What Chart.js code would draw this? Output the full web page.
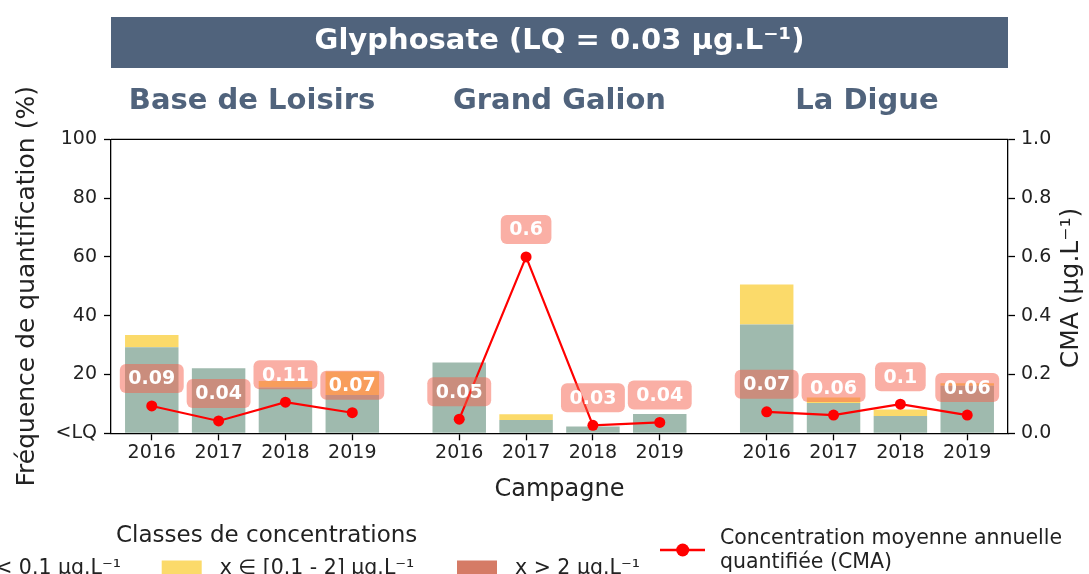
<!DOCTYPE html>
<html>
<head>
<meta charset="utf-8">
<script src="https://cdn.jsdelivr.net/npm/chart.js@4/dist/chart.umd.min.js"></script>
<style>
	html, body { margin: 0; padding: 0; background: #fff; }
	#contenedor { width: 1089px; height: 574px; position: relative; }
</style>
</head>
<body>
<div id="contenedor"><canvas id="grafico" width="1089" height="574"></canvas></div>
<script>
// datos
const sites = ['Base de Loisirs', 'Grand Galion', 'La Digue'];
const years = ['2016', '2017', '2018', '2019'];
// frecuencia de cuantificacion (%) por clase, un array por sitio
const freqLow = [[29.3, 22.1, 15.6, 13.0], [24.1, 4.5, 2.3, 6.6], [37.0, 10.3, 5.9, 16.2]];
const freqMid = [[4.1, 0, 2.2, 8.0], [0, 2.0, 0, 0], [13.6, 1.9, 2.2, 0.8]];
const freqHigh = [[0, 0, 0, 0], [0, 0, 0, 0], [0, 0, 0, 0]];
// concentracion media anual (µg/L)
const cma = [[0.093, 0.042, 0.106, 0.07], [0.048, 0.6, 0.027, 0.037], [0.073, 0.062, 0.099, 0.062]];
const yTicksLeft = [0, 20, 40, 60, 80, 100];
const classLabels = ['x < 0.1 µg.L⁻¹', 'x ∈ [0.1 - 2] µg.L⁻¹', 'x > 2 µg.L⁻¹'];
const lineLabel = ['Concentration moyenne annuelle', 'quantifiée (CMA)'];

const FUENTE = "'DejaVu Sans', sans-serif";
const SALTO = 4.6; // distancia entre grupos de sitios
const colores = ['#9fbaae', '#fbda6a', '#d57b66'];
const pizarra = 'rgb(80,99,124)';

Chart.defaults.font.family = FUENTE;
Chart.defaults.color = '#222';

let posiciones = [];
sites.forEach((s, g) => {
	years.forEach((y, i) => posiciones.push(g * SALTO + i));
});

function serieBarras(valores) {
	let out = [];
	valores.forEach((fila, g) => {
		fila.forEach((v, i) => out.push({ x: g * SALTO + i, y: v }));
	});
	return out;
}

function serieLinea() {
	let out = [];
	cma.forEach((fila, g) => {
		fila.forEach((v, i) => out.push({ x: g * SALTO + i, y: v }));
		// corte entre sitios
		if (g < cma.length - 1) out.push({ x: g * SALTO + 3.8, y: null });
	});
	return out;
}

function cajaRedondeada(ctx, x, y, w, h, r) {
	ctx.beginPath();
	ctx.moveTo(x + r, y);
	ctx.arcTo(x + w, y, x + w, y + h, r);
	ctx.arcTo(x + w, y + h, x, y + h, r);
	ctx.arcTo(x, y + h, x, y, r);
	ctx.arcTo(x, y, x + w, y, r);
	ctx.closePath();
}

function formato(v) {
	return String(Math.round(v * 100) / 100);
}

const decorado = {
	id: 'decorado',
	afterDatasetsDraw(chart) {
		const ctx = chart.ctx;
		const meta = chart.getDatasetMeta(0);
		ctx.save();
		ctx.font = 'bold 19px ' + FUENTE;
		meta.data.forEach((punto, i) => {
			const raw = chart.data.datasets[0].data[i];
			if (raw.y === null) return;
			const texto = formato(raw.y);
			const w = ctx.measureText(texto).width + 17;
			const h = 29;
			const cx = punto.x;
			const cy = punto.y - 27.5;
			cajaRedondeada(ctx, cx - w / 2, cy - h / 2, w, h, 6);
			ctx.fillStyle = 'rgba(245,95,75,0.5)';
			ctx.fill();
			ctx.fillStyle = '#fff';
			ctx.textAlign = 'center';
			ctx.textBaseline = 'middle';
			ctx.fillText(texto, cx, cy + 1);
		});
		ctx.restore();
	},
	afterDraw(chart) {
		const ctx = chart.ctx;
		const area = chart.chartArea;
		const xs = chart.scales.x;
		ctx.save();

		// borde superior del cuadro
		ctx.strokeStyle = '#000';
		ctx.lineWidth = 1.3;
		ctx.beginPath();
		ctx.moveTo(area.left, area.top);
		ctx.lineTo(area.right, area.top);
		ctx.stroke();

		// titulo con fondo
		ctx.fillStyle = pizarra;
		ctx.fillRect(111, 17, 897, 51);
		ctx.fillStyle = '#fff';
		ctx.font = 'bold 29px ' + FUENTE;
		ctx.textAlign = 'center';
		ctx.textBaseline = 'middle';
		ctx.fillText('Glyphosate (LQ = 0.03 µg.L⁻¹)', 559.5, 41);

		// nombres de sitios
		ctx.fillStyle = pizarra;
		sites.forEach((s, g) => {
			ctx.fillText(s, xs.getPixelForValue(g * SALTO + 1.5), 101);
		});

		// titulo eje derecho
		ctx.save();
		ctx.translate(1071, 288);
		ctx.rotate(-Math.PI / 2);
		ctx.font = '25px ' + FUENTE;
		ctx.fillStyle = '#222';
		ctx.fillText('CMA (µg.L⁻¹)', 0, 0);
		ctx.restore();

		// leyenda de clases
		ctx.fillStyle = '#222';
		ctx.font = '23px ' + FUENTE;
		ctx.textAlign = 'left';
		ctx.textBaseline = 'alphabetic';
		ctx.fillText('Classes de concentrations', 116, 541.5);

		ctx.font = '20.5px ' + FUENTE;
		const cajas = [null, 161.7, 457];
		cajas[0] = 121 - ctx.measureText(classLabels[0]).width - 58;
		classLabels.forEach((t, i) => {
			ctx.fillStyle = colores[i];
			ctx.fillRect(cajas[i], 560.5, 40, 15);
			ctx.fillStyle = '#222';
			ctx.fillText(t, cajas[i] + 58, 574);
		});

		// leyenda de la linea
		ctx.strokeStyle = '#ff0000';
		ctx.lineWidth = 2.5;
		ctx.beginPath();
		ctx.moveTo(660, 550);
		ctx.lineTo(705, 550);
		ctx.stroke();
		ctx.fillStyle = '#ff0000';
		ctx.beginPath();
		ctx.arc(682.7, 550, 6.5, 0, Math.PI * 2);
		ctx.fill();
		ctx.fillStyle = '#222';
		ctx.fillText(lineLabel[0], 720, 543.5);
		ctx.fillText(lineLabel[1], 720, 568);

		ctx.restore();
	}
};

const data = {
	datasets: [{
		type: 'line',
		label: 'CMA',
		data: serieLinea(),
		yAxisID: 'y2',
		xAxisID: 'x',
		borderColor: '#ff0000',
		backgroundColor: '#ff0000',
		borderWidth: 2.2,
		pointRadius: 5.5,
		pointBackgroundColor: '#ff0000',
		pointBorderWidth: 0,
		spanGaps: false,
		order: 0
	}, {
		label: classLabels[0],
		data: serieBarras(freqLow),
		backgroundColor: colores[0],
		yAxisID: 'y',
		order: 1
	}, {
		label: classLabels[1],
		data: serieBarras(freqMid),
		backgroundColor: colores[1],
		yAxisID: 'y',
		order: 1
	}, {
		label: classLabels[2],
		data: serieBarras(freqHigh),
		backgroundColor: colores[2],
		yAxisID: 'y',
		order: 1
	}]
};

const config = {
	type: 'bar',
	data: data,
	options: {
		responsive: false,
		animation: false,
		devicePixelRatio: 1,
		layout: { padding: { top: 139.3, left: 0, right: 0, bottom: 0 } },
		datasets: {
			bar: { barPercentage: 1, categoryPercentage: 0.8 }
		},
		plugins: {
			legend: { display: false },
			title: { display: false },
			tooltip: { enabled: false }
		},
		scales: {
			x: {
				type: 'linear',
				min: -0.61,
				max: 3 * SALTO - 1 + 0.61 - (SALTO - 4),
				stacked: true,
				offset: false,
				afterBuildTicks: (eje) => {
					eje.ticks = posiciones.map(v => ({ value: v }));
				},
				afterFit: (eje) => { eje.height = 140.7; },
				ticks: {
					autoSkip: false,
					maxRotation: 0,
					padding: 1,
					color: '#222',
					font: { size: 19 },
					callback: (v, i) => years[i % years.length]
				},
				grid: {
					drawOnChartArea: false,
					offset: false,
					tickLength: 7,
					tickColor: '#000',
					tickWidth: 1.3
				},
				border: { display: true, color: '#000', width: 1.3 },
				title: {
					display: true,
					text: 'Campagne',
					color: '#222',
					font: { size: 24, lineHeight: 1.2 },
					padding: { top: 0, bottom: 70 }
				}
			},
			y: {
				position: 'left',
				min: 0,
				max: 100,
				stacked: true,
				afterBuildTicks: (eje) => {
					eje.ticks = yTicksLeft.map(v => ({ value: v }));
				},
				afterFit: (eje) => { eje.width = 111; },
				ticks: {
					padding: 7,
					color: '#222',
					font: { size: 19 },
					callback: (v) => v === 0 ? '<LQ' : v
				},
				grid: {
					drawOnChartArea: false,
					tickLength: 7,
					tickColor: '#000',
					tickWidth: 1.3
				},
				border: { display: true, color: '#000', width: 1.3 },
				title: {
					display: true,
					text: 'Fréquence de quantification (%)',
					color: '#222',
					font: { size: 25, lineHeight: 1.2 },
					padding: { top: 12, bottom: 0 }
				}
			},
			y2: {
				position: 'right',
				min: 0,
				max: 1,
				ticks: {
					stepSize: 0.2,
					padding: 6,
					color: '#222',
					font: { size: 19 },
					callback: (v) => Number(v).toFixed(1)
				},
				afterFit: (eje) => { eje.width = 81; },
				grid: {
					drawOnChartArea: false,
					tickLength: 7,
					tickColor: '#000',
					tickWidth: 1.3
				},
				border: { display: true, color: '#000', width: 1.3 }
			}
		}
	},
	plugins: [decorado]
};

const grafico = new Chart(document.getElementById('grafico'), config);
</script>
</body>
</html>
